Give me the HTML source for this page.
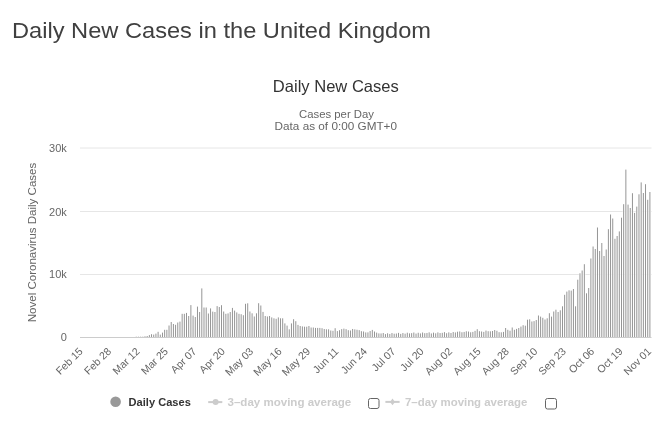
<!DOCTYPE html><html><head><meta charset="utf-8"><style>
html,body{margin:0;padding:0;background:#fff;width:672px;height:437px;overflow:hidden;}
svg{display:block;will-change:transform;font-family:"Liberation Sans",sans-serif;}
</style></head><body>
<svg width="672" height="437" viewBox="0 0 672 437">
<rect width="672" height="437" fill="#fff"/>
<text x="12" y="37.7" font-size="22" fill="#404040" textLength="419" lengthAdjust="spacingAndGlyphs">Daily New Cases in the United Kingdom</text>
<text x="272.8" y="91.8" font-size="16.5" fill="#333" textLength="126" lengthAdjust="spacingAndGlyphs">Daily New Cases</text>
<text x="299" y="117.6" font-size="10.5" fill="#666" textLength="75" lengthAdjust="spacingAndGlyphs">Cases per Day</text>
<text x="274.6" y="129.9" font-size="10.5" fill="#666" textLength="122.4" lengthAdjust="spacingAndGlyphs">Data as of 0:00 GMT+0</text>
<text x="0" y="0" font-size="10.5" fill="#666" text-anchor="middle" transform="translate(36,242.5) rotate(-90)" textLength="159.5" lengthAdjust="spacingAndGlyphs">Novel Coronavirus Daily Cases</text>
<line x1="80" y1="148.0" x2="651.5" y2="148.0" stroke="#e6e6e6" stroke-width="1"/>
<text x="66.8" y="151.8" font-size="11" fill="#666" text-anchor="end">30k</text>
<line x1="80" y1="211.5" x2="651.5" y2="211.5" stroke="#e6e6e6" stroke-width="1"/>
<text x="66.8" y="215.8" font-size="11" fill="#666" text-anchor="end">20k</text>
<line x1="80" y1="274.5" x2="651.5" y2="274.5" stroke="#e6e6e6" stroke-width="1"/>
<text x="66.8" y="277.8" font-size="11" fill="#666" text-anchor="end">10k</text>
<text x="66.8" y="341.1" font-size="11" fill="#666" text-anchor="end">0</text>
<g fill="#fff"><rect x="135.15" y="336.70" width="2.186" height="0.60"/><rect x="137.33" y="336.70" width="2.186" height="0.60"/><rect x="139.52" y="336.70" width="2.186" height="0.60"/><rect x="141.70" y="336.70" width="2.186" height="0.60"/><rect x="143.89" y="336.30" width="2.186" height="1.00"/><rect x="146.07" y="336.00" width="2.186" height="1.30"/><rect x="148.26" y="335.10" width="2.186" height="2.20"/><rect x="150.45" y="334.20" width="2.186" height="3.10"/><rect x="152.63" y="334.60" width="2.186" height="2.70"/><rect x="154.82" y="333.60" width="2.186" height="3.70"/><rect x="157.00" y="331.80" width="2.186" height="5.50"/><rect x="159.19" y="334.60" width="2.186" height="2.70"/><rect x="161.38" y="332.60" width="2.186" height="4.70"/><rect x="163.56" y="329.80" width="2.186" height="7.50"/><rect x="165.75" y="329.80" width="2.186" height="7.50"/><rect x="167.93" y="325.50" width="2.186" height="11.80"/><rect x="170.12" y="322.00" width="2.186" height="15.30"/><rect x="172.30" y="324.00" width="2.186" height="13.30"/><rect x="174.49" y="324.80" width="2.186" height="12.50"/><rect x="176.68" y="322.50" width="2.186" height="14.80"/><rect x="178.86" y="321.60" width="2.186" height="15.70"/><rect x="181.05" y="313.80" width="2.186" height="23.50"/><rect x="183.23" y="313.80" width="2.186" height="23.50"/><rect x="185.42" y="312.90" width="2.186" height="24.40"/><rect x="187.61" y="316.00" width="2.186" height="21.30"/><rect x="189.79" y="305.10" width="2.186" height="32.20"/><rect x="191.98" y="315.60" width="2.186" height="21.70"/><rect x="194.16" y="317.00" width="2.186" height="20.30"/><rect x="196.35" y="306.60" width="2.186" height="30.70"/><rect x="198.53" y="312.00" width="2.186" height="25.30"/><rect x="200.72" y="288.40" width="2.186" height="48.90"/><rect x="202.91" y="307.50" width="2.186" height="29.80"/><rect x="205.09" y="307.50" width="2.186" height="29.80"/><rect x="207.28" y="313.50" width="2.186" height="23.80"/><rect x="209.46" y="308.40" width="2.186" height="28.90"/><rect x="211.65" y="311.60" width="2.186" height="25.70"/><rect x="213.84" y="312.00" width="2.186" height="25.30"/><rect x="216.02" y="306.10" width="2.186" height="31.20"/><rect x="218.21" y="307.00" width="2.186" height="30.30"/><rect x="220.39" y="305.20" width="2.186" height="32.10"/><rect x="222.58" y="311.50" width="2.186" height="25.80"/><rect x="224.76" y="313.80" width="2.186" height="23.50"/><rect x="226.95" y="313.40" width="2.186" height="23.90"/><rect x="229.14" y="312.00" width="2.186" height="25.30"/><rect x="231.32" y="307.90" width="2.186" height="29.40"/><rect x="233.51" y="310.60" width="2.186" height="26.70"/><rect x="235.69" y="312.40" width="2.186" height="24.90"/><rect x="237.88" y="313.80" width="2.186" height="23.50"/><rect x="240.07" y="314.20" width="2.186" height="23.10"/><rect x="242.25" y="315.20" width="2.186" height="22.10"/><rect x="244.44" y="303.80" width="2.186" height="33.50"/><rect x="246.62" y="303.30" width="2.186" height="34.00"/><rect x="248.81" y="311.50" width="2.186" height="25.80"/><rect x="250.99" y="313.30" width="2.186" height="24.00"/><rect x="253.18" y="316.50" width="2.186" height="20.80"/><rect x="255.37" y="313.30" width="2.186" height="24.00"/><rect x="257.55" y="303.20" width="2.186" height="34.10"/><rect x="259.74" y="305.50" width="2.186" height="31.80"/><rect x="261.92" y="311.90" width="2.186" height="25.40"/><rect x="264.11" y="316.00" width="2.186" height="21.30"/><rect x="266.30" y="316.50" width="2.186" height="20.80"/><rect x="268.48" y="316.00" width="2.186" height="21.30"/><rect x="270.67" y="317.40" width="2.186" height="19.90"/><rect x="272.85" y="318.30" width="2.186" height="19.00"/><rect x="275.04" y="318.80" width="2.186" height="18.50"/><rect x="277.22" y="317.40" width="2.186" height="19.90"/><rect x="279.41" y="318.30" width="2.186" height="19.00"/><rect x="281.60" y="318.30" width="2.186" height="19.00"/><rect x="283.78" y="323.40" width="2.186" height="13.90"/><rect x="285.97" y="325.60" width="2.186" height="11.70"/><rect x="288.15" y="329.30" width="2.186" height="8.00"/><rect x="290.34" y="323.40" width="2.186" height="13.90"/><rect x="292.52" y="319.20" width="2.186" height="18.10"/><rect x="294.71" y="321.20" width="2.186" height="16.10"/><rect x="296.90" y="324.90" width="2.186" height="12.40"/><rect x="299.08" y="326.00" width="2.186" height="11.30"/><rect x="301.27" y="326.40" width="2.186" height="10.90"/><rect x="303.45" y="326.70" width="2.186" height="10.60"/><rect x="305.64" y="326.70" width="2.186" height="10.60"/><rect x="307.83" y="326.00" width="2.186" height="11.30"/><rect x="310.01" y="327.50" width="2.186" height="9.80"/><rect x="312.20" y="327.50" width="2.186" height="9.80"/><rect x="314.38" y="327.90" width="2.186" height="9.40"/><rect x="316.57" y="327.90" width="2.186" height="9.40"/><rect x="318.75" y="327.90" width="2.186" height="9.40"/><rect x="320.94" y="328.20" width="2.186" height="9.10"/><rect x="323.13" y="329.00" width="2.186" height="8.30"/><rect x="325.31" y="329.30" width="2.186" height="8.00"/><rect x="327.50" y="329.30" width="2.186" height="8.00"/><rect x="329.68" y="330.50" width="2.186" height="6.80"/><rect x="331.87" y="330.80" width="2.186" height="6.50"/><rect x="334.06" y="328.20" width="2.186" height="9.10"/><rect x="336.24" y="331.08" width="2.186" height="6.22"/><rect x="338.43" y="330.19" width="2.186" height="7.11"/><rect x="340.61" y="329.13" width="2.186" height="8.17"/><rect x="342.80" y="328.63" width="2.186" height="8.67"/><rect x="344.98" y="329.15" width="2.186" height="8.15"/><rect x="347.17" y="330.17" width="2.186" height="7.13"/><rect x="349.36" y="330.49" width="2.186" height="6.81"/><rect x="351.54" y="328.96" width="2.186" height="8.34"/><rect x="353.73" y="329.36" width="2.186" height="7.94"/><rect x="355.91" y="329.73" width="2.186" height="7.57"/><rect x="358.10" y="330.11" width="2.186" height="7.19"/><rect x="360.29" y="331.20" width="2.186" height="6.10"/><rect x="362.47" y="331.49" width="2.186" height="5.81"/><rect x="364.66" y="332.41" width="2.186" height="4.89"/><rect x="366.84" y="332.36" width="2.186" height="4.94"/><rect x="369.03" y="331.03" width="2.186" height="6.27"/><rect x="371.21" y="329.90" width="2.186" height="7.40"/><rect x="373.40" y="331.50" width="2.186" height="5.80"/><rect x="375.59" y="332.60" width="2.186" height="4.70"/><rect x="377.77" y="333.40" width="2.186" height="3.90"/><rect x="379.96" y="333.44" width="2.186" height="3.86"/><rect x="382.14" y="333.00" width="2.186" height="4.30"/><rect x="384.33" y="334.08" width="2.186" height="3.22"/><rect x="386.52" y="333.27" width="2.186" height="4.03"/><rect x="388.70" y="333.95" width="2.186" height="3.35"/><rect x="390.89" y="333.04" width="2.186" height="4.26"/><rect x="393.07" y="333.72" width="2.186" height="3.58"/><rect x="395.26" y="333.51" width="2.186" height="3.79"/><rect x="397.44" y="332.86" width="2.186" height="4.44"/><rect x="399.63" y="333.89" width="2.186" height="3.41"/><rect x="401.82" y="333.03" width="2.186" height="4.27"/><rect x="404.00" y="333.66" width="2.186" height="3.64"/><rect x="406.19" y="332.70" width="2.186" height="4.60"/><rect x="408.37" y="333.37" width="2.186" height="3.93"/><rect x="410.56" y="333.14" width="2.186" height="4.16"/><rect x="412.75" y="332.51" width="2.186" height="4.79"/><rect x="414.93" y="333.58" width="2.186" height="3.72"/><rect x="417.12" y="332.75" width="2.186" height="4.55"/><rect x="419.30" y="333.42" width="2.186" height="3.88"/><rect x="421.49" y="332.50" width="2.186" height="4.80"/><rect x="423.67" y="333.18" width="2.186" height="4.12"/><rect x="425.86" y="332.97" width="2.186" height="4.33"/><rect x="428.05" y="332.35" width="2.186" height="4.95"/><rect x="430.23" y="333.44" width="2.186" height="3.86"/><rect x="432.42" y="332.62" width="2.186" height="4.68"/><rect x="434.60" y="333.31" width="2.186" height="3.99"/><rect x="436.79" y="332.39" width="2.186" height="4.91"/><rect x="438.98" y="333.04" width="2.186" height="4.26"/><rect x="441.16" y="332.80" width="2.186" height="4.50"/><rect x="443.35" y="332.15" width="2.186" height="5.15"/><rect x="445.53" y="333.21" width="2.186" height="4.09"/><rect x="447.72" y="332.35" width="2.186" height="4.95"/><rect x="449.90" y="332.99" width="2.186" height="4.31"/><rect x="452.09" y="332.02" width="2.186" height="5.28"/><rect x="454.28" y="332.45" width="2.186" height="4.85"/><rect x="456.46" y="331.71" width="2.186" height="5.59"/><rect x="458.65" y="331.45" width="2.186" height="5.85"/><rect x="460.83" y="332.23" width="2.186" height="5.07"/><rect x="463.02" y="331.93" width="2.186" height="5.37"/><rect x="465.20" y="331.26" width="2.186" height="6.04"/><rect x="467.39" y="331.53" width="2.186" height="5.77"/><rect x="469.58" y="332.29" width="2.186" height="5.01"/><rect x="471.76" y="331.91" width="2.186" height="5.39"/><rect x="473.95" y="330.86" width="2.186" height="6.44"/><rect x="476.13" y="329.19" width="2.186" height="8.11"/><rect x="478.32" y="331.20" width="2.186" height="6.10"/><rect x="480.51" y="331.49" width="2.186" height="5.81"/><rect x="482.69" y="331.88" width="2.186" height="5.42"/><rect x="484.88" y="330.57" width="2.186" height="6.73"/><rect x="487.06" y="331.20" width="2.186" height="6.10"/><rect x="489.25" y="331.32" width="2.186" height="5.98"/><rect x="491.43" y="330.99" width="2.186" height="6.31"/><rect x="493.62" y="330.03" width="2.186" height="7.27"/><rect x="495.81" y="330.78" width="2.186" height="6.52"/><rect x="497.99" y="332.18" width="2.186" height="5.12"/><rect x="500.18" y="332.30" width="2.186" height="5.00"/><rect x="502.36" y="331.90" width="2.186" height="5.40"/><rect x="504.55" y="328.00" width="2.186" height="9.30"/><rect x="506.74" y="329.80" width="2.186" height="7.50"/><rect x="508.92" y="330.70" width="2.186" height="6.60"/><rect x="511.11" y="327.50" width="2.186" height="9.80"/><rect x="513.29" y="329.80" width="2.186" height="7.50"/><rect x="515.48" y="328.90" width="2.186" height="8.40"/><rect x="517.66" y="328.00" width="2.186" height="9.30"/><rect x="519.85" y="326.60" width="2.186" height="10.70"/><rect x="522.04" y="325.20" width="2.186" height="12.10"/><rect x="524.22" y="325.70" width="2.186" height="11.60"/><rect x="526.41" y="319.70" width="2.186" height="17.60"/><rect x="528.59" y="319.30" width="2.186" height="18.00"/><rect x="530.78" y="321.50" width="2.186" height="15.80"/><rect x="532.97" y="321.10" width="2.186" height="16.20"/><rect x="535.15" y="320.00" width="2.186" height="17.30"/><rect x="537.34" y="315.50" width="2.186" height="21.80"/><rect x="539.52" y="316.60" width="2.186" height="20.70"/><rect x="541.71" y="317.80" width="2.186" height="19.50"/><rect x="543.89" y="319.50" width="2.186" height="17.80"/><rect x="546.08" y="318.30" width="2.186" height="19.00"/><rect x="548.27" y="313.20" width="2.186" height="24.10"/><rect x="550.45" y="316.60" width="2.186" height="20.70"/><rect x="552.64" y="311.50" width="2.186" height="25.80"/><rect x="554.82" y="309.70" width="2.186" height="27.60"/><rect x="557.01" y="312.00" width="2.186" height="25.30"/><rect x="559.20" y="310.30" width="2.186" height="27.00"/><rect x="561.38" y="306.30" width="2.186" height="31.00"/><rect x="563.57" y="294.80" width="2.186" height="42.50"/><rect x="565.75" y="291.60" width="2.186" height="45.70"/><rect x="567.94" y="290.30" width="2.186" height="47.00"/><rect x="570.12" y="290.60" width="2.186" height="46.70"/><rect x="572.31" y="289.00" width="2.186" height="48.30"/><rect x="574.50" y="306.30" width="2.186" height="31.00"/><rect x="576.68" y="279.70" width="2.186" height="57.60"/><rect x="578.87" y="273.30" width="2.186" height="64.00"/><rect x="581.05" y="270.50" width="2.186" height="66.80"/><rect x="583.24" y="264.20" width="2.186" height="73.10"/><rect x="585.43" y="293.30" width="2.186" height="44.00"/><rect x="587.61" y="288.00" width="2.186" height="49.30"/><rect x="589.80" y="258.50" width="2.186" height="78.80"/><rect x="591.98" y="246.50" width="2.186" height="90.80"/><rect x="594.17" y="249.00" width="2.186" height="88.30"/><rect x="596.35" y="227.50" width="2.186" height="109.80"/><rect x="598.54" y="251.00" width="2.186" height="86.30"/><rect x="600.73" y="243.00" width="2.186" height="94.30"/><rect x="602.91" y="256.00" width="2.186" height="81.30"/><rect x="605.10" y="249.50" width="2.186" height="87.80"/><rect x="607.28" y="229.20" width="2.186" height="108.10"/><rect x="609.47" y="214.50" width="2.186" height="122.80"/><rect x="611.66" y="218.50" width="2.186" height="118.80"/><rect x="613.84" y="238.80" width="2.186" height="98.50"/><rect x="616.03" y="236.00" width="2.186" height="101.30"/><rect x="618.21" y="231.40" width="2.186" height="105.90"/><rect x="620.40" y="217.70" width="2.186" height="119.60"/><rect x="622.58" y="204.20" width="2.186" height="133.10"/><rect x="624.77" y="169.60" width="2.186" height="167.70"/><rect x="626.96" y="204.60" width="2.186" height="132.70"/><rect x="629.14" y="208.00" width="2.186" height="129.30"/><rect x="631.33" y="193.20" width="2.186" height="144.10"/><rect x="633.51" y="212.90" width="2.186" height="124.40"/><rect x="635.70" y="206.60" width="2.186" height="130.70"/><rect x="637.89" y="194.30" width="2.186" height="143.00"/><rect x="640.07" y="182.40" width="2.186" height="154.90"/><rect x="642.26" y="193.00" width="2.186" height="144.30"/><rect x="644.44" y="184.20" width="2.186" height="153.10"/><rect x="646.63" y="199.80" width="2.186" height="137.50"/><rect x="648.81" y="192.00" width="2.186" height="145.30"/></g>
<g fill="#909090"><rect x="135.76" y="336.70" width="0.95" height="0.60"/><rect x="137.95" y="336.70" width="0.95" height="0.60"/><rect x="140.14" y="336.70" width="0.95" height="0.60"/><rect x="142.32" y="336.70" width="0.95" height="0.60"/><rect x="144.51" y="336.30" width="0.95" height="1.00"/><rect x="146.69" y="336.00" width="0.95" height="1.30"/><rect x="148.88" y="335.10" width="0.95" height="2.20"/><rect x="151.06" y="334.20" width="0.95" height="3.10"/><rect x="153.25" y="334.60" width="0.95" height="2.70"/><rect x="155.44" y="333.60" width="0.95" height="3.70"/><rect x="157.62" y="331.80" width="0.95" height="5.50"/><rect x="159.81" y="334.60" width="0.95" height="2.70"/><rect x="161.99" y="332.60" width="0.95" height="4.70"/><rect x="164.18" y="329.80" width="0.95" height="7.50"/><rect x="166.37" y="329.80" width="0.95" height="7.50"/><rect x="168.55" y="325.50" width="0.95" height="11.80"/><rect x="170.74" y="322.00" width="0.95" height="15.30"/><rect x="172.92" y="324.00" width="0.95" height="13.30"/><rect x="175.11" y="324.80" width="0.95" height="12.50"/><rect x="177.29" y="322.50" width="0.95" height="14.80"/><rect x="179.48" y="321.60" width="0.95" height="15.70"/><rect x="181.67" y="313.80" width="0.95" height="23.50"/><rect x="183.85" y="313.80" width="0.95" height="23.50"/><rect x="186.04" y="312.90" width="0.95" height="24.40"/><rect x="188.22" y="316.00" width="0.95" height="21.30"/><rect x="190.41" y="305.10" width="0.95" height="32.20"/><rect x="192.59" y="315.60" width="0.95" height="21.70"/><rect x="194.78" y="317.00" width="0.95" height="20.30"/><rect x="196.97" y="306.60" width="0.95" height="30.70"/><rect x="199.15" y="312.00" width="0.95" height="25.30"/><rect x="201.34" y="288.40" width="0.95" height="48.90"/><rect x="203.52" y="307.50" width="0.95" height="29.80"/><rect x="205.71" y="307.50" width="0.95" height="29.80"/><rect x="207.90" y="313.50" width="0.95" height="23.80"/><rect x="210.08" y="308.40" width="0.95" height="28.90"/><rect x="212.27" y="311.60" width="0.95" height="25.70"/><rect x="214.45" y="312.00" width="0.95" height="25.30"/><rect x="216.64" y="306.10" width="0.95" height="31.20"/><rect x="218.82" y="307.00" width="0.95" height="30.30"/><rect x="221.01" y="305.20" width="0.95" height="32.10"/><rect x="223.20" y="311.50" width="0.95" height="25.80"/><rect x="225.38" y="313.80" width="0.95" height="23.50"/><rect x="227.57" y="313.40" width="0.95" height="23.90"/><rect x="229.75" y="312.00" width="0.95" height="25.30"/><rect x="231.94" y="307.90" width="0.95" height="29.40"/><rect x="234.13" y="310.60" width="0.95" height="26.70"/><rect x="236.31" y="312.40" width="0.95" height="24.90"/><rect x="238.50" y="313.80" width="0.95" height="23.50"/><rect x="240.68" y="314.20" width="0.95" height="23.10"/><rect x="242.87" y="315.20" width="0.95" height="22.10"/><rect x="245.05" y="303.80" width="0.95" height="33.50"/><rect x="247.24" y="303.30" width="0.95" height="34.00"/><rect x="249.43" y="311.50" width="0.95" height="25.80"/><rect x="251.61" y="313.30" width="0.95" height="24.00"/><rect x="253.80" y="316.50" width="0.95" height="20.80"/><rect x="255.98" y="313.30" width="0.95" height="24.00"/><rect x="258.17" y="303.20" width="0.95" height="34.10"/><rect x="260.36" y="305.50" width="0.95" height="31.80"/><rect x="262.54" y="311.90" width="0.95" height="25.40"/><rect x="264.73" y="316.00" width="0.95" height="21.30"/><rect x="266.91" y="316.50" width="0.95" height="20.80"/><rect x="269.10" y="316.00" width="0.95" height="21.30"/><rect x="271.28" y="317.40" width="0.95" height="19.90"/><rect x="273.47" y="318.30" width="0.95" height="19.00"/><rect x="275.66" y="318.80" width="0.95" height="18.50"/><rect x="277.84" y="317.40" width="0.95" height="19.90"/><rect x="280.03" y="318.30" width="0.95" height="19.00"/><rect x="282.21" y="318.30" width="0.95" height="19.00"/><rect x="284.40" y="323.40" width="0.95" height="13.90"/><rect x="286.59" y="325.60" width="0.95" height="11.70"/><rect x="288.77" y="329.30" width="0.95" height="8.00"/><rect x="290.96" y="323.40" width="0.95" height="13.90"/><rect x="293.14" y="319.20" width="0.95" height="18.10"/><rect x="295.33" y="321.20" width="0.95" height="16.10"/><rect x="297.51" y="324.90" width="0.95" height="12.40"/><rect x="299.70" y="326.00" width="0.95" height="11.30"/><rect x="301.89" y="326.40" width="0.95" height="10.90"/><rect x="304.07" y="326.70" width="0.95" height="10.60"/><rect x="306.26" y="326.70" width="0.95" height="10.60"/><rect x="308.44" y="326.00" width="0.95" height="11.30"/><rect x="310.63" y="327.50" width="0.95" height="9.80"/><rect x="312.82" y="327.50" width="0.95" height="9.80"/><rect x="315.00" y="327.90" width="0.95" height="9.40"/><rect x="317.19" y="327.90" width="0.95" height="9.40"/><rect x="319.37" y="327.90" width="0.95" height="9.40"/><rect x="321.56" y="328.20" width="0.95" height="9.10"/><rect x="323.74" y="329.00" width="0.95" height="8.30"/><rect x="325.93" y="329.30" width="0.95" height="8.00"/><rect x="328.12" y="329.30" width="0.95" height="8.00"/><rect x="330.30" y="330.50" width="0.95" height="6.80"/><rect x="332.49" y="330.80" width="0.95" height="6.50"/><rect x="334.67" y="328.20" width="0.95" height="9.10"/><rect x="336.86" y="331.08" width="0.95" height="6.22"/><rect x="339.05" y="330.19" width="0.95" height="7.11"/><rect x="341.23" y="329.13" width="0.95" height="8.17"/><rect x="343.42" y="328.63" width="0.95" height="8.67"/><rect x="345.60" y="329.15" width="0.95" height="8.15"/><rect x="347.79" y="330.17" width="0.95" height="7.13"/><rect x="349.97" y="330.49" width="0.95" height="6.81"/><rect x="352.16" y="328.96" width="0.95" height="8.34"/><rect x="354.35" y="329.36" width="0.95" height="7.94"/><rect x="356.53" y="329.73" width="0.95" height="7.57"/><rect x="358.72" y="330.11" width="0.95" height="7.19"/><rect x="360.90" y="331.20" width="0.95" height="6.10"/><rect x="363.09" y="331.49" width="0.95" height="5.81"/><rect x="365.27" y="332.41" width="0.95" height="4.89"/><rect x="367.46" y="332.36" width="0.95" height="4.94"/><rect x="369.65" y="331.03" width="0.95" height="6.27"/><rect x="371.83" y="329.90" width="0.95" height="7.40"/><rect x="374.02" y="331.50" width="0.95" height="5.80"/><rect x="376.20" y="332.60" width="0.95" height="4.70"/><rect x="378.39" y="333.40" width="0.95" height="3.90"/><rect x="380.58" y="333.44" width="0.95" height="3.86"/><rect x="382.76" y="333.00" width="0.95" height="4.30"/><rect x="384.95" y="334.08" width="0.95" height="3.22"/><rect x="387.13" y="333.27" width="0.95" height="4.03"/><rect x="389.32" y="333.95" width="0.95" height="3.35"/><rect x="391.50" y="333.04" width="0.95" height="4.26"/><rect x="393.69" y="333.72" width="0.95" height="3.58"/><rect x="395.88" y="333.51" width="0.95" height="3.79"/><rect x="398.06" y="332.86" width="0.95" height="4.44"/><rect x="400.25" y="333.89" width="0.95" height="3.41"/><rect x="402.43" y="333.03" width="0.95" height="4.27"/><rect x="404.62" y="333.66" width="0.95" height="3.64"/><rect x="406.81" y="332.70" width="0.95" height="4.60"/><rect x="408.99" y="333.37" width="0.95" height="3.93"/><rect x="411.18" y="333.14" width="0.95" height="4.16"/><rect x="413.36" y="332.51" width="0.95" height="4.79"/><rect x="415.55" y="333.58" width="0.95" height="3.72"/><rect x="417.73" y="332.75" width="0.95" height="4.55"/><rect x="419.92" y="333.42" width="0.95" height="3.88"/><rect x="422.11" y="332.50" width="0.95" height="4.80"/><rect x="424.29" y="333.18" width="0.95" height="4.12"/><rect x="426.48" y="332.97" width="0.95" height="4.33"/><rect x="428.66" y="332.35" width="0.95" height="4.95"/><rect x="430.85" y="333.44" width="0.95" height="3.86"/><rect x="433.04" y="332.62" width="0.95" height="4.68"/><rect x="435.22" y="333.31" width="0.95" height="3.99"/><rect x="437.41" y="332.39" width="0.95" height="4.91"/><rect x="439.59" y="333.04" width="0.95" height="4.26"/><rect x="441.78" y="332.80" width="0.95" height="4.50"/><rect x="443.96" y="332.15" width="0.95" height="5.15"/><rect x="446.15" y="333.21" width="0.95" height="4.09"/><rect x="448.34" y="332.35" width="0.95" height="4.95"/><rect x="450.52" y="332.99" width="0.95" height="4.31"/><rect x="452.71" y="332.02" width="0.95" height="5.28"/><rect x="454.89" y="332.45" width="0.95" height="4.85"/><rect x="457.08" y="331.71" width="0.95" height="5.59"/><rect x="459.27" y="331.45" width="0.95" height="5.85"/><rect x="461.45" y="332.23" width="0.95" height="5.07"/><rect x="463.64" y="331.93" width="0.95" height="5.37"/><rect x="465.82" y="331.26" width="0.95" height="6.04"/><rect x="468.01" y="331.53" width="0.95" height="5.77"/><rect x="470.19" y="332.29" width="0.95" height="5.01"/><rect x="472.38" y="331.91" width="0.95" height="5.39"/><rect x="474.57" y="330.86" width="0.95" height="6.44"/><rect x="476.75" y="329.19" width="0.95" height="8.11"/><rect x="478.94" y="331.20" width="0.95" height="6.10"/><rect x="481.12" y="331.49" width="0.95" height="5.81"/><rect x="483.31" y="331.88" width="0.95" height="5.42"/><rect x="485.50" y="330.57" width="0.95" height="6.73"/><rect x="487.68" y="331.20" width="0.95" height="6.10"/><rect x="489.87" y="331.32" width="0.95" height="5.98"/><rect x="492.05" y="330.99" width="0.95" height="6.31"/><rect x="494.24" y="330.03" width="0.95" height="7.27"/><rect x="496.42" y="330.78" width="0.95" height="6.52"/><rect x="498.61" y="332.18" width="0.95" height="5.12"/><rect x="500.80" y="332.30" width="0.95" height="5.00"/><rect x="502.98" y="331.90" width="0.95" height="5.40"/><rect x="505.17" y="328.00" width="0.95" height="9.30"/><rect x="507.35" y="329.80" width="0.95" height="7.50"/><rect x="509.54" y="330.70" width="0.95" height="6.60"/><rect x="511.73" y="327.50" width="0.95" height="9.80"/><rect x="513.91" y="329.80" width="0.95" height="7.50"/><rect x="516.10" y="328.90" width="0.95" height="8.40"/><rect x="518.28" y="328.00" width="0.95" height="9.30"/><rect x="520.47" y="326.60" width="0.95" height="10.70"/><rect x="522.65" y="325.20" width="0.95" height="12.10"/><rect x="524.84" y="325.70" width="0.95" height="11.60"/><rect x="527.03" y="319.70" width="0.95" height="17.60"/><rect x="529.21" y="319.30" width="0.95" height="18.00"/><rect x="531.40" y="321.50" width="0.95" height="15.80"/><rect x="533.58" y="321.10" width="0.95" height="16.20"/><rect x="535.77" y="320.00" width="0.95" height="17.30"/><rect x="537.96" y="315.50" width="0.95" height="21.80"/><rect x="540.14" y="316.60" width="0.95" height="20.70"/><rect x="542.33" y="317.80" width="0.95" height="19.50"/><rect x="544.51" y="319.50" width="0.95" height="17.80"/><rect x="546.70" y="318.30" width="0.95" height="19.00"/><rect x="548.88" y="313.20" width="0.95" height="24.10"/><rect x="551.07" y="316.60" width="0.95" height="20.70"/><rect x="553.26" y="311.50" width="0.95" height="25.80"/><rect x="555.44" y="309.70" width="0.95" height="27.60"/><rect x="557.63" y="312.00" width="0.95" height="25.30"/><rect x="559.81" y="310.30" width="0.95" height="27.00"/><rect x="562.00" y="306.30" width="0.95" height="31.00"/><rect x="564.18" y="294.80" width="0.95" height="42.50"/><rect x="566.37" y="291.60" width="0.95" height="45.70"/><rect x="568.56" y="290.30" width="0.95" height="47.00"/><rect x="570.74" y="290.60" width="0.95" height="46.70"/><rect x="572.93" y="289.00" width="0.95" height="48.30"/><rect x="575.11" y="306.30" width="0.95" height="31.00"/><rect x="577.30" y="279.70" width="0.95" height="57.60"/><rect x="579.49" y="273.30" width="0.95" height="64.00"/><rect x="581.67" y="270.50" width="0.95" height="66.80"/><rect x="583.86" y="264.20" width="0.95" height="73.10"/><rect x="586.04" y="293.30" width="0.95" height="44.00"/><rect x="588.23" y="288.00" width="0.95" height="49.30"/><rect x="590.41" y="258.50" width="0.95" height="78.80"/><rect x="592.60" y="246.50" width="0.95" height="90.80"/><rect x="594.79" y="249.00" width="0.95" height="88.30"/><rect x="596.97" y="227.50" width="0.95" height="109.80"/><rect x="599.16" y="251.00" width="0.95" height="86.30"/><rect x="601.34" y="243.00" width="0.95" height="94.30"/><rect x="603.53" y="256.00" width="0.95" height="81.30"/><rect x="605.72" y="249.50" width="0.95" height="87.80"/><rect x="607.90" y="229.20" width="0.95" height="108.10"/><rect x="610.09" y="214.50" width="0.95" height="122.80"/><rect x="612.27" y="218.50" width="0.95" height="118.80"/><rect x="614.46" y="238.80" width="0.95" height="98.50"/><rect x="616.64" y="236.00" width="0.95" height="101.30"/><rect x="618.83" y="231.40" width="0.95" height="105.90"/><rect x="621.02" y="217.70" width="0.95" height="119.60"/><rect x="623.20" y="204.20" width="0.95" height="133.10"/><rect x="625.39" y="169.60" width="0.95" height="167.70"/><rect x="627.57" y="204.60" width="0.95" height="132.70"/><rect x="629.76" y="208.00" width="0.95" height="129.30"/><rect x="631.95" y="193.20" width="0.95" height="144.10"/><rect x="634.13" y="212.90" width="0.95" height="124.40"/><rect x="636.32" y="206.60" width="0.95" height="130.70"/><rect x="638.50" y="194.30" width="0.95" height="143.00"/><rect x="640.69" y="182.40" width="0.95" height="154.90"/><rect x="642.87" y="193.00" width="0.95" height="144.30"/><rect x="645.06" y="184.20" width="0.95" height="153.10"/><rect x="647.25" y="199.80" width="0.95" height="137.50"/><rect x="649.43" y="192.00" width="0.95" height="145.30"/></g>
<line x1="80" y1="337.5" x2="651.5" y2="337.5" stroke="#ccc" stroke-width="1"/>
<text x="83.49" y="352" font-size="10.6" fill="#666" text-anchor="end" transform="rotate(-45 83.49 352)">Feb 15</text>
<text x="111.91" y="352" font-size="10.6" fill="#666" text-anchor="end" transform="rotate(-45 111.91 352)">Feb 28</text>
<text x="140.32" y="352" font-size="10.6" fill="#666" text-anchor="end" transform="rotate(-45 140.32 352)">Mar 12</text>
<text x="168.74" y="352" font-size="10.6" fill="#666" text-anchor="end" transform="rotate(-45 168.74 352)">Mar 25</text>
<text x="197.16" y="352" font-size="10.6" fill="#666" text-anchor="end" transform="rotate(-45 197.16 352)">Apr 07</text>
<text x="225.57" y="352" font-size="10.6" fill="#666" text-anchor="end" transform="rotate(-45 225.57 352)">Apr 20</text>
<text x="253.99" y="352" font-size="10.6" fill="#666" text-anchor="end" transform="rotate(-45 253.99 352)">May 03</text>
<text x="282.40" y="352" font-size="10.6" fill="#666" text-anchor="end" transform="rotate(-45 282.40 352)">May 16</text>
<text x="310.82" y="352" font-size="10.6" fill="#666" text-anchor="end" transform="rotate(-45 310.82 352)">May 29</text>
<text x="339.23" y="352" font-size="10.6" fill="#666" text-anchor="end" transform="rotate(-45 339.23 352)">Jun 11</text>
<text x="367.65" y="352" font-size="10.6" fill="#666" text-anchor="end" transform="rotate(-45 367.65 352)">Jun 24</text>
<text x="396.07" y="352" font-size="10.6" fill="#666" text-anchor="end" transform="rotate(-45 396.07 352)">Jul 07</text>
<text x="424.48" y="352" font-size="10.6" fill="#666" text-anchor="end" transform="rotate(-45 424.48 352)">Jul 20</text>
<text x="452.90" y="352" font-size="10.6" fill="#666" text-anchor="end" transform="rotate(-45 452.90 352)">Aug 02</text>
<text x="481.31" y="352" font-size="10.6" fill="#666" text-anchor="end" transform="rotate(-45 481.31 352)">Aug 15</text>
<text x="509.73" y="352" font-size="10.6" fill="#666" text-anchor="end" transform="rotate(-45 509.73 352)">Aug 28</text>
<text x="538.14" y="352" font-size="10.6" fill="#666" text-anchor="end" transform="rotate(-45 538.14 352)">Sep 10</text>
<text x="566.56" y="352" font-size="10.6" fill="#666" text-anchor="end" transform="rotate(-45 566.56 352)">Sep 23</text>
<text x="594.98" y="352" font-size="10.6" fill="#666" text-anchor="end" transform="rotate(-45 594.98 352)">Oct 06</text>
<text x="623.39" y="352" font-size="10.6" fill="#666" text-anchor="end" transform="rotate(-45 623.39 352)">Oct 19</text>
<text x="651.81" y="352" font-size="10.6" fill="#666" text-anchor="end" transform="rotate(-45 651.81 352)">Nov 01</text>
<circle cx="115.6" cy="401.7" r="5.3" fill="#999"/>
<text x="128.6" y="406" font-size="11.5" font-weight="bold" fill="#333" textLength="62.2" lengthAdjust="spacingAndGlyphs">Daily Cases</text>
<line x1="208.2" y1="402.1" x2="222.3" y2="402.1" stroke="#ccc" stroke-width="2"/>
<circle cx="215.6" cy="402.1" r="3" fill="#ccc"/>
<text x="227.5" y="406" font-size="11.5" font-weight="bold" fill="#ccc" textLength="123.8" lengthAdjust="spacingAndGlyphs">3–day moving average</text>
<rect x="368.5" y="398.5" width="10.5" height="10" rx="2" fill="#fff" stroke="#666" stroke-width="1"/>
<line x1="385.4" y1="401.9" x2="399.6" y2="401.9" stroke="#ccc" stroke-width="2"/>
<path d="M392.5 398.5 L395 401.9 L392.5 405.3 L390 401.9 Z" fill="#ccc"/>
<text x="405" y="406" font-size="11.5" font-weight="bold" fill="#ccc" textLength="122.4" lengthAdjust="spacingAndGlyphs">7–day moving average</text>
<rect x="545.5" y="398.5" width="11" height="10.5" rx="2" fill="#fff" stroke="#666" stroke-width="1"/>
</svg></body></html>
